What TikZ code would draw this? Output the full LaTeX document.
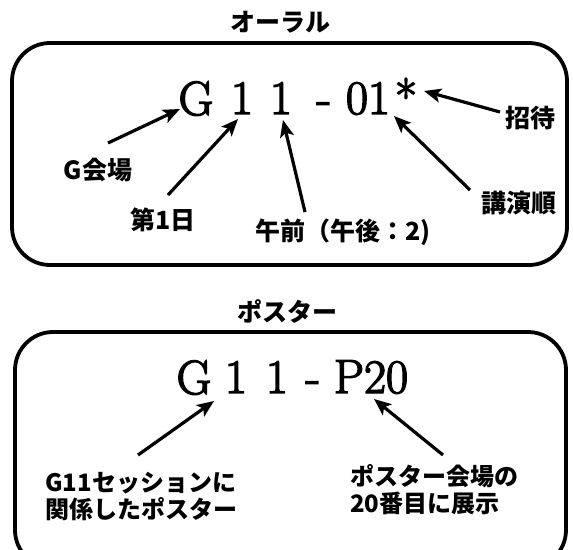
\documentclass[tikz,border=0pt]{standalone}
\usepackage{fontspec}
\newfontfamily\jp{Noto Sans CJK JP}
\newfontfamily\codefont{Latin Modern Roman}[FakeBold=3]
\usetikzlibrary{arrows.meta}
\tikzset{
  frame/.style={line width=3.8pt, rounded corners=38pt},
  code/.style={font=\codefont\fontsize{48}{48}\selectfont, inner sep=0pt, anchor=base},
  lab/.style={font=\jp\bfseries\fontsize{25}{27}\selectfont, inner sep=0pt},
  ttl/.style={font=\jp\bfseries\fontsize{25}{27}\selectfont, inner sep=0pt},
  arr/.style={line width=3.2pt, -{Stealth[length=17pt,width=14pt,inset=4pt]}},
}
\begin{document}
\begin{tikzpicture}[x=1pt,y=-1pt]
\useasboundingbox (0,0) rectangle (573,549);
% ---- oral ----
\node[ttl] (ttl1) at (280,22) {オーラル};
\draw[frame] (12,43) rectangle (567,265);
\node[code] (g1) at (196,115) {G};
\node[code] (d1a) at (242,114) {1};
\node[code] (d1b) at (281,114) {1};
\node[code] (dash1) at (324,114) {-};
\node[code] (num1) at (368,114) {01};
\node[code] (star1) at (406,114) {*};
\node[lab] (lg) at (98,170) {G会場};
\node[lab] (lday) at (163,220) {第1日};
\node[lab] (lam) at (343,232) {午前（午後：2)};
\node[lab] (lord) at (519,203) {講演順};
\node[lab] (linv) at (530,118) {招待};
\coordinate (t1) at (108,143); \coordinate (h1) at (180,109);
\coordinate (t2) at (168,195); \coordinate (h2) at (238,119);
\coordinate (t3) at (305,212); \coordinate (h3) at (283,120);
\coordinate (t4) at (470,190); \coordinate (h4) at (394,116);
\coordinate (t5) at (500,112); \coordinate (h5) at (424,91);
\draw[arr] (t1) -- (h1);
\draw[arr] (t2) -- (h2);
\draw[arr] (t3) -- (h3);
\draw[arr] (t4) -- (h4);
\draw[arr] (t5) -- (h5);
% ---- poster ----
\node[ttl] (ttl2) at (287,312) {ポスター};
\draw[frame] (15,332) rectangle (566,568);
\node[code] (g2) at (194,394) {G};
\node[code] (d2a) at (236,393) {1};
\node[code] (d2b) at (277,393) {1};
\node[code] (dash2) at (313,393) {-};
\node[code] (num2) at (371,393) {P20};
\node[lab, font=\jp\bfseries\fontsize{24}{27}\selectfont, align=left, anchor=west] (lsess) at (45,496) {G11セッションに\\関係したポスター};
\node[lab, font=\jp\bfseries\fontsize{24}{27}\selectfont, align=left, anchor=west] (lpos) at (350,490) {ポスター会場の\\20番目に展示};
\coordinate (t6) at (138,455); \coordinate (h6) at (214,401);
\coordinate (t7) at (443,455); \coordinate (h7) at (374,399);
\draw[arr] (t6) -- (h6);
\draw[arr] (t7) -- (h7);
\end{tikzpicture}
\end{document}
